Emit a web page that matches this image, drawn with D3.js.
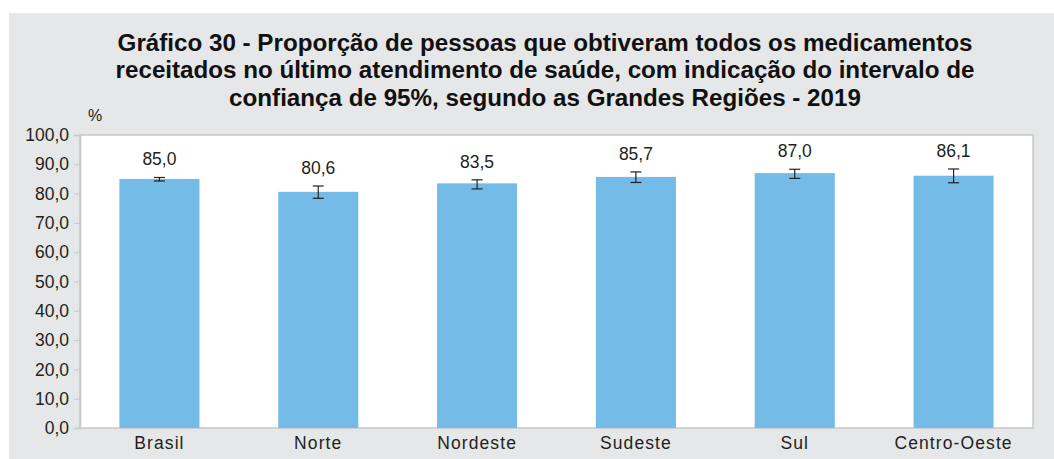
<!DOCTYPE html>
<html>
<head>
<meta charset="utf-8">
<script src="https://cdn.jsdelivr.net/npm/d3@7"></script>
<style>
  body { margin: 0; background: #fff; }
  svg { display: block; font-family: "Liberation Sans", Arial, sans-serif; }
  .tick text { font-size: 17.5px; fill: #231f20; }
</style>
</head>
<body>
<div id="chart"></div>
<script>
// data
const regions = ['Brasil', 'Norte', 'Nordeste', 'Sudeste', 'Sul', 'Centro-Oeste'];
const values = [85.0, 80.6, 83.5, 85.7, 87.0, 86.1];
const ciLow = [84.3, 78.4, 81.6, 83.8, 85.2, 83.7];
const ciHigh = [85.5, 82.6, 84.7, 87.4, 88.3, 88.4];
const yTicks = [0, 10, 20, 30, 40, 50, 60, 70, 80, 90, 100];
const titleLines = [
    'Gráfico 30 - Proporção de pessoas que obtiveram todos os medicamentos',
    'receitados no último atendimento de saúde, com indicação do intervalo de',
    'confiança de 95%, segundo as Grandes Regiões - 2019'
];

const width = 1054, height = 459;
const margin = { top: 135, right: 21, bottom: 31, left: 80 };
const innerW = width - margin.left - margin.right;
const innerH = height - margin.top - margin.bottom;

const data = regions.map((r, i) => ({ region: r, value: values[i], lo: ciLow[i], hi: ciHigh[i] }));

const svg = d3.select('#chart').append('svg')
    .attr('width', width)
    .attr('height', height);

// grey panel behind everything
svg.append('rect')
    .attr('x', 9).attr('y', 13)
    .attr('width', width - 9).attr('height', height - 13)
    .attr('fill', '#e6e7e8');

svg.append('text')
    .attr('text-anchor', 'middle')
    .attr('font-weight', 'bold')
    .attr('font-size', 24.2)
    .attr('fill', '#111')
    .selectAll('tspan')
    .data(titleLines)
    .join('tspan')
    .attr('x', 545)
    .attr('y', (d, i) => 50.5 + i * 27.5)
    .text(d => d);

svg.append('text')
    .attr('x', 88).attr('y', 121)
    .attr('font-size', 16)
    .attr('fill', '#231f20')
    .text('%');

const chart = svg.append('g')
    .attr('transform', `translate(${margin.left},${margin.top})`);

chart.append('rect')
    .attr('width', innerW).attr('height', innerH)
    .attr('fill', '#fff')
    .attr('stroke', '#c6c8ca')
    .attr('stroke-width', 1.5);

const x = d3.scaleBand()
    .domain(regions)
    .range([0, innerW])
    .paddingInner(0.496)
    .paddingOuter(0.248);

const y = d3.scaleLinear()
    .domain([0, 100])
    .range([innerH, 0]);

const yAxis = d3.axisLeft(y)
    .tickValues(yTicks)
    .tickSize(6)
    .tickPadding(5)
    .tickFormat(d => d3.format('.1f')(d).replace('.', ','));

chart.append('g')
    .call(yAxis)
    .call(g => g.select('.domain').attr('stroke', '#c6c8ca').attr('stroke-width', 1.5))
    .call(g => g.selectAll('.tick line').attr('stroke', '#c6c8ca'))
    .call(g => g.selectAll('.tick text').attr('font-family', null));

const xAxis = d3.axisBottom(x).tickSize(0).tickPadding(9);

chart.append('g')
    .attr('transform', `translate(0,${innerH})`)
    .call(xAxis)
    .call(g => g.select('.domain').remove())
    .call(g => g.selectAll('.tick text').attr('font-family', null).attr('letter-spacing', '1.1px'));

chart.selectAll('.bar')
    .data(data)
    .join('rect')
    .attr('class', 'bar')
    .attr('x', d => x(d.region))
    .attr('y', d => y(d.value))
    .attr('width', x.bandwidth())
    .attr('height', d => innerH - y(d.value))
    .attr('fill', '#74bce7');

// error bars
const err = chart.selectAll('.err')
    .data(data)
    .join('g')
    .attr('class', 'err')
    .attr('transform', d => `translate(${x(d.region) + x.bandwidth() / 2},0)`)
    .attr('stroke', '#231f20')
    .attr('stroke-width', 1.2);

err.append('line')
    .attr('y1', d => y(d.lo)).attr('y2', d => y(d.hi));
err.append('line')
    .attr('x1', -5.5).attr('x2', 5.5)
    .attr('y1', d => y(d.lo)).attr('y2', d => y(d.lo));
err.append('line')
    .attr('x1', -5.5).attr('x2', 5.5)
    .attr('y1', d => y(d.hi)).attr('y2', d => y(d.hi));

chart.selectAll('.val')
    .data(data)
    .join('text')
    .attr('class', 'val')
    .attr('x', d => x(d.region) + x.bandwidth() / 2)
    .attr('y', d => y(d.hi) - 12)
    .attr('text-anchor', 'middle')
    .attr('font-size', 17.5)
    .attr('fill', '#231f20')
    .text(d => d3.format('.1f')(d.value).replace('.', ','));
</script>
</body>
</html>
